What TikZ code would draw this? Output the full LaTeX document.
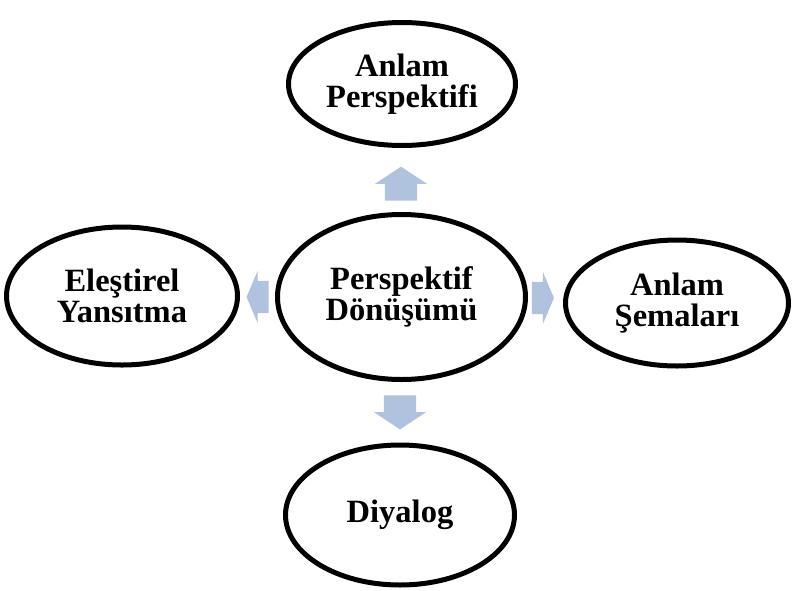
\documentclass[tikz,border=0pt]{standalone}
\usepackage{fontspec}
\setmainfont{Liberation Serif}
\usetikzlibrary{shapes.geometric,shapes.arrows}
\definecolor{cblue}{HTML}{AFC2DE}
\colorlet{crim}{black!60}
\pgfdeclareradialshading[crim]{ovalshade}{\pgfpoint{0bp}{4bp}}{color(0bp)=(white); color(37bp)=(white); color(50bp)=(crim); color(75bp)=(crim)}

\begin{document}
\begin{tikzpicture}[x=1pt,y=-1pt,
  main node/.style={ellipse,draw=black,line width=5pt,inner sep=0pt,
    align=center,font=\fontsize{32.5}{31}\selectfont\bfseries},
  outer node/.style={main node,shade,shading=ovalshade},
  block arrow/.style={single arrow,fill=cblue,draw=none,inner xsep=0pt,inner ysep=16pt,
    single arrow head extend=10pt}]
  \useasboundingbox (0,0) rectangle (793,590);
  \node[main node,fill=white,minimum width=248,minimum height=165] (center) at (401.5,297) {Perspektif\\Dönüşümü};
  \node[outer node,minimum width=227,minimum height=123] (top) at (402,84) {Anlam\\Perspektifi};
  \node[outer node,minimum width=231,minimum height=138] (left) at (122,296) {Eleştirel\\Yansıtma};
  \node[outer node,minimum width=223,minimum height=126] (right) at (677,303) {Anlam\\Şemaları};
  \node[outer node,minimum width=229,minimum height=140] (bottom) at (400,515) {Diyalog};

  \node[block arrow,minimum height=34,single arrow tip angle=113,rotate=90] (aup) at (401,189) {};
  \node[block arrow,minimum height=34,single arrow tip angle=113,rotate=-90] (adown) at (400,407) {};
  \node[block arrow,minimum height=22,single arrow tip angle=134,rotate=180] (aleft) at (261,297) {};
  \node[block arrow,minimum height=22,single arrow tip angle=134] (aright) at (539.5,298) {};
\end{tikzpicture}
\end{document}
